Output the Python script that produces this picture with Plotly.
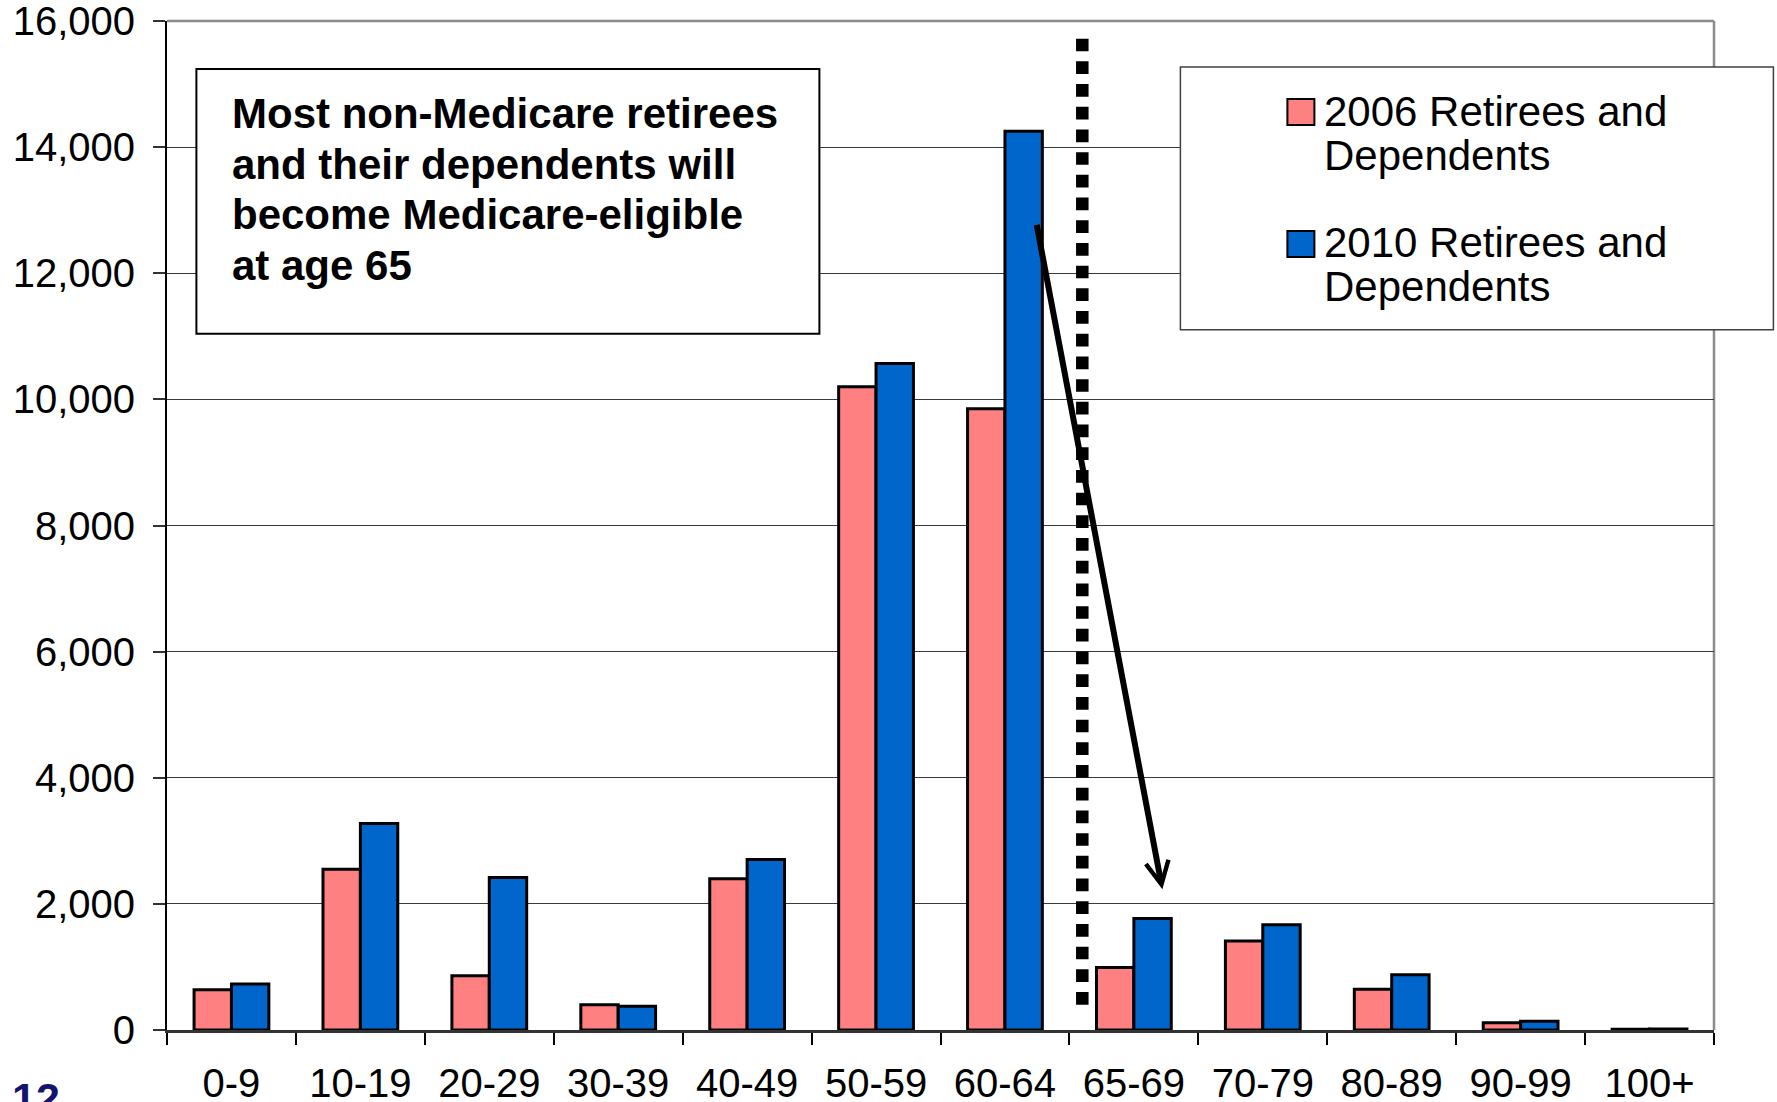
import plotly.graph_objects as go

# Age bands and head counts of non-Medicare retirees and dependents
age_groups = ["0-9", "10-19", "20-29", "30-39", "40-49", "50-59",
              "60-64", "65-69", "70-79", "80-89", "90-99", "100+"]
retirees_2006 = [640, 2550, 860, 400, 2400, 10200, 9850, 990, 1410, 645, 115, 12]
retirees_2010 = [730, 3275, 2420, 375, 2705, 10570, 14250, 1770, 1670, 878, 140, 15]

series_names = ["2006 Retirees and Dependents", "2010 Retirees and Dependents"]
y_ticks = [0, 2000, 4000, 6000, 8000, 10000, 12000, 14000, 16000]

note_lines = ["Most non-Medicare retirees", "and their dependents will",
              "become Medicare-eligible", "at age 65"]
slide_number = "12"

# Medicare eligibility marker (drawn top-down) and the arrow past age 65
eligibility_x = 6.6
eligibility_span = (15720, 391)
arrow_tail = (6.244, 12790)
arrow_tip = (7.221, 2230)

PINK = "#FF8080"
BLUE = "#0066CC"
FONT = "Liberation Sans, Arial, sans-serif"

W, H = 1777, 1102
PL, PR, PT, PB = 166.6, 1713.6, 21.0, 1030.5


def px(x):
    return (x - PL) / (PR - PL)


def py(y):
    return (PB - y) / (PB - PT)


fig = go.Figure()
for name, vals, color in [(series_names[0], retirees_2006, PINK),
                          (series_names[1], retirees_2010, BLUE)]:
    fig.add_trace(go.Bar(
        x=age_groups, y=vals, name=name,
        marker=dict(color=color, line=dict(color="black", width=3)),
        showlegend=False,
    ))

shapes = [
    # top and right frame of the plot area
    dict(type="line", xref="paper", yref="paper", x0=0, x1=1, y0=1, y1=1,
         line=dict(color="#8c8c8c", width=2.5), layer="below"),
    dict(type="line", xref="paper", yref="paper", x0=1, x1=1, y0=0, y1=1,
         line=dict(color="#8c8c8c", width=2.5), layer="below"),
    # dotted eligibility line
    dict(type="line", xref="x", yref="y", x0=eligibility_x, x1=eligibility_x,
         y0=eligibility_span[0], y1=eligibility_span[1],
         line=dict(color="black", width=12.5, dash="12.7px,10px"), layer="above"),
    # note box
    dict(type="rect", xref="paper", yref="paper",
         x0=px(196), x1=px(819), y0=py(334), y1=py(69),
         fillcolor="white", line=dict(color="black", width=2), layer="above"),
    # legend box
    dict(type="rect", xref="paper", yref="paper",
         x0=px(1180), x1=px(1773), y0=py(330), y1=py(67),
         fillcolor="white", line=dict(color="#404040", width=1.5), layer="above"),
    # legend swatches
    dict(type="rect", xref="paper", yref="paper",
         x0=px(1287), x1=px(1314), y0=py(125), y1=py(99),
         fillcolor=PINK, line=dict(color="black", width=2), layer="above"),
    dict(type="rect", xref="paper", yref="paper",
         x0=px(1287), x1=px(1314), y0=py(257), y1=py(231),
         fillcolor=BLUE, line=dict(color="black", width=2), layer="above"),
]

annotations = [
    dict(xref="x", yref="y", axref="x", ayref="y",
         x=arrow_tip[0], y=arrow_tip[1], ax=arrow_tail[0], ay=arrow_tail[1],
         text="", showarrow=True, arrowhead=5, arrowsize=0.75, arrowwidth=6,
         arrowcolor="black", standoff=0),
    dict(xref="paper", yref="paper", x=px(10), y=py(1099),
         xanchor="left", yanchor="middle", showarrow=False, text=slide_number,
         font=dict(family=FONT, size=43, color="#14146e", weight="bold")),
]

# note text, one line per baseline
for i, line in enumerate(note_lines):
    base = 128.3 + i * 50.6
    annotations.append(dict(
        xref="paper", yref="paper", x=px(230), y=py(base - 14.5),
        xanchor="left", yanchor="middle", showarrow=False, text=line,
        font=dict(family=FONT, size=42, color="black", weight="bold")))

# legend entries, each line placed on its own baseline
legend_rows = [
    (series_names[0].rsplit(" ", 1)[0], 125.7),
    (series_names[0].rsplit(" ", 1)[1], 169.3),
    (series_names[1].rsplit(" ", 1)[0], 256.7),
    (series_names[1].rsplit(" ", 1)[1], 300.3),
]
for text, base in legend_rows:
    annotations.append(dict(
        xref="paper", yref="paper", x=px(1322), y=py(base - 14),
        xanchor="left", yanchor="middle", showarrow=False, text=text,
        font=dict(family=FONT, size=42, color="black")))

fig.update_layout(
    width=W, height=H,
    margin=dict(l=PL, r=W - PR, t=PT, b=H - PB, pad=0),
    paper_bgcolor="white", plot_bgcolor="white",
    barmode="group", bargap=0.42, bargroupgap=0,
    font=dict(family=FONT, color="black"),
    shapes=shapes, annotations=annotations,
)
fig.update_xaxes(
    type="category", range=[-0.5, 11.5], tickson="boundaries",
    ticks="outside", ticklen=12, tickwidth=1.5, tickcolor="black",
    showline=True, linecolor="#333333", linewidth=2.5,
    showgrid=False, zeroline=False, automargin=False,
    ticklabeloverflow="allow",
    tickfont=dict(family=FONT, size=40, color="black"),
    ticklabelstandoff=16,
)
fig.update_yaxes(
    range=[0, 16000], tickvals=y_ticks, tickformat=",d",
    ticks="outside", ticklen=12, tickwidth=1.5, tickcolor="#333333",
    showline=True, linecolor="black", linewidth=2,
    showgrid=True, gridcolor="#3a3a3a", gridwidth=1.2, zeroline=False,
    automargin=False, ticklabeloverflow="allow",
    tickfont=dict(family=FONT, size=40, color="black"),
    ticklabelstandoff=10,
)

fig.write_html("out.html")
